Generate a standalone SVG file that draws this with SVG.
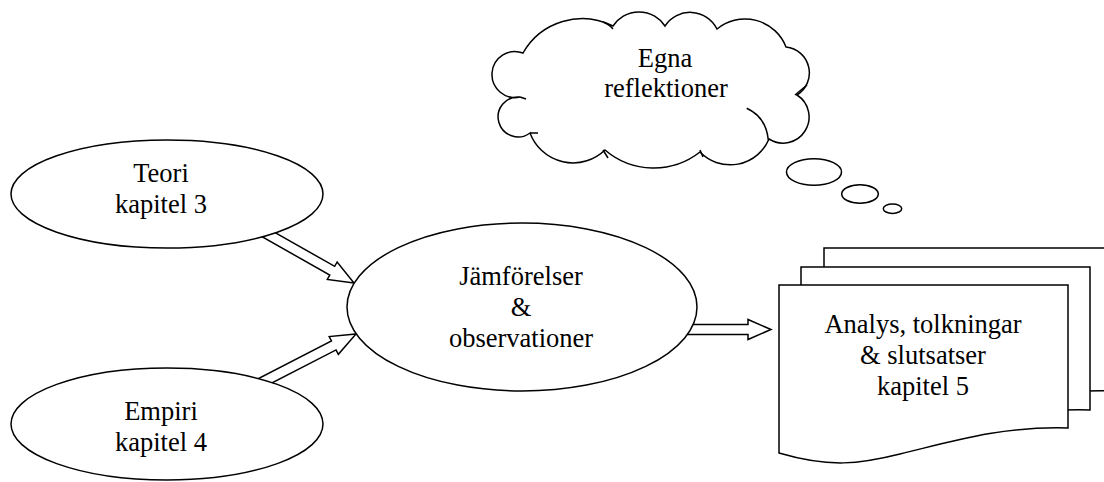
<svg xmlns="http://www.w3.org/2000/svg" xmlns:xlink="http://www.w3.org/1999/xlink" width="1104" height="482" viewBox="0 0 1104 482" font-family="'Liberation Serif', serif">
  <style>
    .shape { fill: #ffffff; stroke: #000000; stroke-width: 1.5; stroke-linejoin: miter; }
    .hook { fill: none; stroke: #000000; stroke-width: 1.5; }
    .arrow { fill: #ffffff; stroke: #000000; stroke-width: 1.5; stroke-linejoin: miter; }
    .label { font-family: 'Liberation Serif', serif; font-size: 26.5px; fill: #000000; text-anchor: middle; }
  </style>
  <defs>
    <path id="docPage" d="M779,285 H1068 V428 C1000,426 950,442 900,454 C860,464 830,468 779,453 Z"/>
  </defs>
  <rect x="0" y="0" width="1104" height="482" fill="#ffffff"/>

  <g id="connectors">
    <polygon class="arrow" points="257.46,222.65 334.69,266.34 337.16,261.98 354,283 327.30,279.40 329.77,275.04 252.54,231.35"/>
    <polygon class="arrow" points="252.71,381.55 331.48,340.99 329.19,336.55 356,334 338.35,354.33 336.06,349.89 257.29,390.45"/>
    <polygon class="arrow" points="670,324.5 748,324.5 748,319.5 771,329.5 748,339.5 748,334.5 670,334.5"/>
  </g>

  <g id="node-teori">
    <ellipse class="shape" cx="167" cy="194" rx="156" ry="54"/>
    <text class="label" x="161" y="182">Teori</text>
    <text class="label" x="161" y="213">kapitel 3</text>
  </g>

  <g id="node-empiri">
    <ellipse class="shape" cx="167" cy="424" rx="156" ry="56"/>
    <text class="label" x="161" y="420">Empiri</text>
    <text class="label" x="161" y="451">kapitel 4</text>
  </g>

  <g id="node-jamforelser">
    <ellipse class="shape" cx="522" cy="307" rx="175" ry="84"/>
    <text class="label" x="521" y="285">Jämförelser</text>
    <text class="label" x="521" y="316">&amp;</text>
    <text class="label" x="521" y="347">observationer</text>
  </g>

  <g id="node-analys">
    <use xlink:href="#docPage" class="shape" transform="translate(45,-37)"/>
    <use xlink:href="#docPage" class="shape" transform="translate(22,-18)"/>
    <use xlink:href="#docPage" class="shape"/>
    <text class="label" x="923" y="333">Analys, tolkningar</text>
    <text class="label" x="923" y="364">&amp; slutsatser</text>
    <text class="label" x="923" y="395">kapitel 5</text>
  </g>

  <g id="node-reflektioner">
    <path class="shape" d="M523,53 A68 68 0 0 1 613,26 A31 31 0 0 1 665,26 A30 30 0 0 1 717,29 A44 44 0 0 1 786,47 A26 26 0 0 1 797,95 A26 26 0 0 1 769,139 A42 42 0 0 1 700,152 A75 75 0 0 1 605,150 A46 46 0 0 1 530,133 A20 20 0 1 1 520,97 A23 23 0 1 1 523,53 Z"/>
    <path class="hook" d="M603,22 Q609,24 613,29"/>
    <path class="hook" d="M795,95 L807,85"/>
    <path class="hook" d="M746.7,108.3 Q766,117 768.3,140"/>
    <path class="hook" d="M700,150 L703,157"/>
    <path class="hook" d="M603,150 L608,158"/>
    <path class="hook" d="M530,133 L538,133"/>
    <path class="hook" d="M520,97 L526,99"/>
    <ellipse class="shape" cx="814" cy="172" rx="27.5" ry="13.3"/>
    <ellipse class="shape" cx="860" cy="194" rx="18.3" ry="9.2"/>
    <ellipse class="shape" cx="892.5" cy="208.7" rx="9.2" ry="4.7"/>
    <text class="label" x="665" y="67">Egna</text>
    <text class="label" x="666" y="97">reflektioner</text>
  </g>
</svg>
